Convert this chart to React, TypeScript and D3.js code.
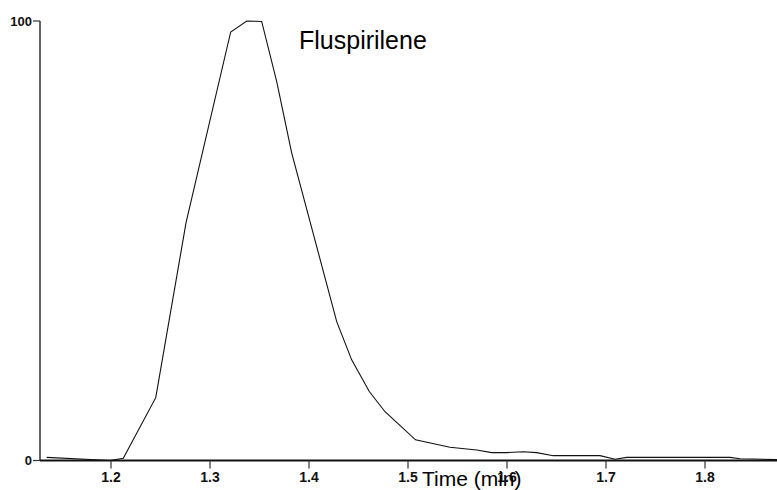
import React from "react";
import * as d3 from "d3";

const times = [1.135, 1.199, 1.2124, 1.2452, 1.2758, 1.3209, 1.3371, 1.3522, 1.3674, 1.3825, 1.428, 1.4431, 1.4609, 1.4768, 1.5076, 1.5424, 1.5694, 1.5846, 1.5997, 1.6165, 1.63, 1.6468, 1.6939, 1.7091, 1.7209, 1.8253, 1.8354, 1.8727];
const intensity = [0.7, 0, 0.5, 14.3, 54.1, 97.5, 100, 99.9, 86.2, 70.0, 31.6, 22.9, 15.7, 11.1, 4.7, 3.0, 2.4, 1.8, 1.8, 2.0, 1.8, 1.1, 1.1, 0.3, 0.7, 0.7, 0.4, 0.2];
const xTicks = [1.2, 1.3, 1.4, 1.5, 1.6, 1.7, 1.8];
const yTicks = [0, 100];
const title = "Fluspirilene";
const xTitle = "Time (min)";

export default function App() {
  const W = 777, H = 490;
  const x = d3.scaleLinear().domain([1.2, 1.3]).range([111, 210]);
  const y = d3.scaleLinear().domain([0, 100]).range([460.5, 21]);
  const x0 = 40;
  const line = d3.line<number>().x((_, i) => x(times[i])).y((d) => y(d));
  const path = line(intensity) || "";
  return (
    <svg width={W} height={H} style={{ position: "absolute", left: 0, top: 0, background: "#fff" }}
      fontFamily="'Liberation Sans', Arial, sans-serif">
      <rect width={W} height={H} fill="#fff" />
      <line x1={x0} x2={x0} y1={y(100)} y2={y(0)} stroke="#333" strokeWidth={1.5} />
      {yTicks.map((t) => (
        <g key={t}>
          <line x1={x0 - 7} x2={x0} y1={y(t)} y2={y(t)} stroke="#333" strokeWidth={1.2} />
          <text x={x0 - 8} y={y(t) + 4.5} textAnchor="end" fontSize={13} fontWeight="bold" fill="#111">{t}</text>
        </g>
      ))}
      <line x1={x0} x2={W} y1={y(0)} y2={y(0)} stroke="#111" strokeWidth={2} />
      {xTicks.map((t) => (
        <g key={t}>
          <line x1={x(t)} x2={x(t)} y1={y(0)} y2={y(0) + 8} stroke="#333" strokeWidth={1.2} />
          <text x={x(t)} y={481.5} textAnchor="middle" fontSize={14} fontWeight="bold" fill="#111">{t.toFixed(1)}</text>
        </g>
      ))}
      <path d={path} fill="none" stroke="#111" strokeWidth={1.1} />
      <text x={299} y={49} fontSize={25} fill="#000">{title}</text>
      <text x={422} y={486} fontSize={21} fill="#000">{xTitle}</text>
    </svg>
  );
}
